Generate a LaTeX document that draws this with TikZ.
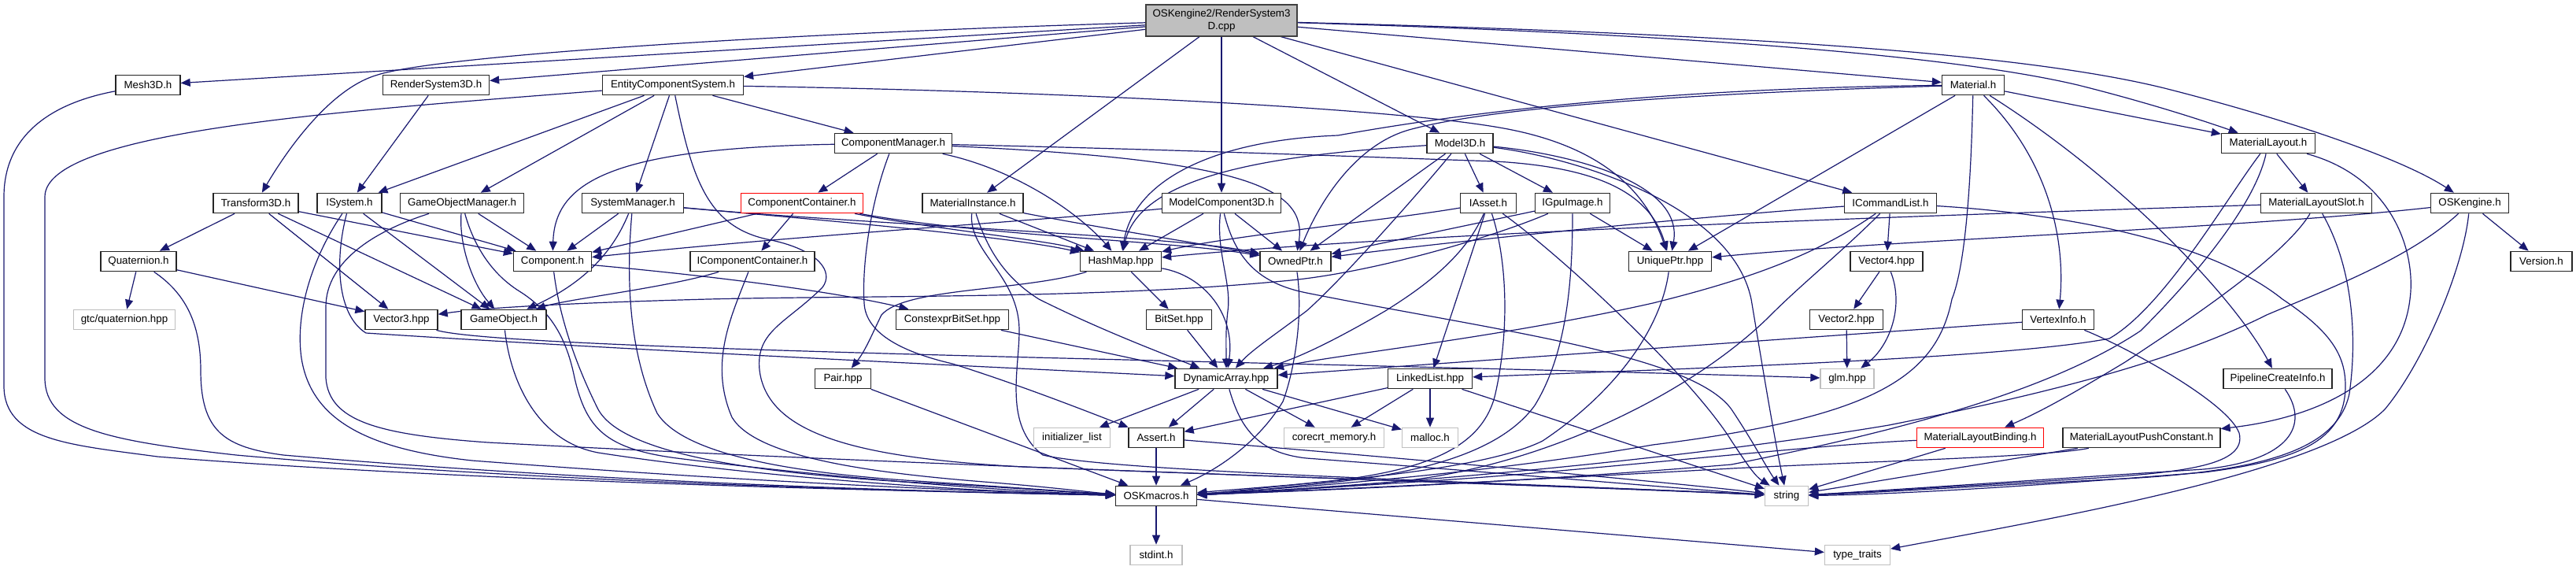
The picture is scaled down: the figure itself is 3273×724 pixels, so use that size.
\documentclass[tikz,border=0pt]{standalone}
\usepackage{fontspec}
\setmainfont{Liberation Sans}
\usetikzlibrary{arrows.meta, backgrounds}
\definecolor{incblue}{HTML}{191970}
\definecolor{rootgray}{HTML}{BFBFBF}
\definecolor{framegray}{HTML}{404040}
\definecolor{sysgray}{HTML}{BFBFBF}

\begin{document}
\begin{tikzpicture}[x=0.75pt, y=-0.75pt,
  hdr/.style={draw=black!85, fill=white, line width=1pt, minimum height=19pt, inner sep=0pt, font=\fontsize{10}{11.5}\selectfont},
  wd/.style={minimum width=#1*0.75pt},
  sys/.style={hdr, draw=sysgray},
  cut/.style={hdr, draw=red},
  inc/.style={incblue, line width=0.9pt, -{Triangle[length=9pt,width=7.5pt]}}]
  \useasboundingbox (0,0) rectangle (3273,724);
  \node[hdr, fill=rootgray, draw=framegray, wd=192, minimum height=30pt, align=center] (root) at (1552,26) {OSKengine2/RenderSystem3\\D.cpp};
  \node[hdr, wd=82] (mesh) at (188,108) {Mesh3D.h};
  \node[hdr, wd=135] (rs3d) at (554,108) {RenderSystem3D.h};
  \node[hdr, wd=179] (ecs) at (855,108) {EntityComponentSystem.h};
  \node[hdr, wd=79] (material) at (2507,108) {Material.h};
  \node[hdr, wd=149] (compmgr) at (1135,182) {ComponentManager.h};
  \node[hdr, wd=84] (model) at (1855,182) {Model3D.h};
  \node[hdr, wd=119] (mlayout) at (2882,182) {MaterialLayout.h};
  \node[hdr, wd=108] (trans) at (325,258) {Transform3D.h};
  \node[hdr, wd=82] (isystem) at (444,258) {ISystem.h};
  \node[hdr, wd=157] (gom) at (587,258) {GameObjectManager.h};
  \node[hdr, wd=129] (sysmgr) at (804,258) {SystemManager.h};
  \node[cut, wd=155] (compcont) at (1019,258) {ComponentContainer.h};
  \node[hdr, wd=128] (matinst) at (1236,258) {MaterialInstance.h};
  \node[hdr, wd=151] (mc3d) at (1552,258) {ModelComponent3D.h};
  \node[hdr, wd=71] (iasset) at (1891,258) {IAsset.h};
  \node[hdr, wd=95] (igpu) at (1998,258) {IGpuImage.h};
  \node[hdr, wd=117] (icmd) at (2402,258) {ICommandList.h};
  \node[hdr, wd=141] (mlslot) at (2943,258) {MaterialLayoutSlot.h};
  \node[hdr, wd=99] (oskengine) at (3138,258) {OSKengine.h};
  \node[hdr, wd=96] (quat) at (176,332) {Quaternion.h};
  \node[hdr, wd=99] (component) at (702,332) {Component.h};
  \node[hdr, wd=158] (icompcont) at (956,332) {IComponentContainer.h};
  \node[hdr, wd=103] (hashmap) at (1424,332) {HashMap.hpp};
  \node[hdr, wd=90] (ownedptr) at (1646,332) {OwnedPtr.h};
  \node[hdr, wd=105] (uniqueptr) at (2122,332) {UniquePtr.hpp};
  \node[hdr, wd=92] (vec4) at (2397,332) {Vector4.hpp};
  \node[hdr, wd=78] (version) at (3229,332) {Version.h};
  \node[sys, wd=129] (gtcquat) at (158,406) {gtc/quaternion.hpp};
  \node[hdr, wd=92] (vec3) at (510,406) {Vector3.hpp};
  \node[hdr, wd=108] (gameobj) at (640,406) {GameObject.h};
  \node[hdr, wd=143] (constbitset) at (1210,406) {ConstexprBitSet.hpp};
  \node[hdr, wd=83] (bitset) at (1498,406) {BitSet.hpp};
  \node[hdr, wd=93] (vec2) at (2346,406) {Vector2.hpp};
  \node[hdr, wd=91] (vertexinfo) at (2615,406) {VertexInfo.h};
  \node[hdr, wd=71] (pair) at (1071,481) {Pair.hpp};
  \node[hdr, wd=130] (dynarray) at (1558,481) {DynamicArray.hpp};
  \node[hdr, wd=107] (linkedlist) at (1817,481) {LinkedList.hpp};
  \node[sys, wd=68] (glm) at (2347,481) {glm.hpp};
  \node[hdr, wd=138] (pipeline) at (2894,481) {PipelineCreateInfo.h};
  \node[sys, wd=97] (initlist) at (1362,556) {initializer\_list};
  \node[hdr, wd=70] (assert) at (1469,556) {Assert.h};
  \node[sys, wd=127] (corecrt) at (1695,556) {corecrt\_memory.h};
  \node[sys, wd=71] (malloc) at (1817,556) {malloc.h};
  \node[cut, wd=161] (mlbinding) at (2516,556) {MaterialLayoutBinding.h};
  \node[hdr, wd=200] (mlpush) at (2721,556) {MaterialLayoutPushConstant.h};
  \node[hdr, wd=103] (macros) at (1469,630) {OSKmacros.h};
  \node[sys, wd=55] (string) at (2270,630) {string};
  \node[sys, wd=66] (stdint) at (1469,705) {stdint.h};
  \node[sys, wd=83] (typetraits) at (2360,705) {type\_traits};
  \begin{scope}[on background layer]
  \fill[white] (0,0) rectangle (3273,724);
  \draw[inc] (root) -- (mesh);
  \draw[inc] (root) -- (rs3d);
  \draw[inc] (root) -- (ecs);
  \draw[inc] (root) .. controls (1000,42) and (560,70) .. (480,95) .. controls (420,112) and (365,190) .. (trans);
  \draw[inc] (root) -- (matinst);
  \draw[inc] (root) -- (mc3d);
  \draw[inc] (root) -- (model);
  \draw[inc] (root) -- (icmd);
  \draw[inc] (root) -- (material);
  \draw[inc] (root) .. controls (2200,45) and (2500,75) .. (2640,108) .. controls (2720,128) and (2790,150) .. (mlayout);
  \draw[inc] (root) .. controls (2300,45) and (2600,75) .. (2750,112) .. controls (2900,150) and (3050,200) .. (oskengine);
  \draw[inc] (mesh) .. controls (60,132) and (5,175) .. (5,250) -- (5,490) .. controls (5,560) and (90,565) .. (200,580) .. controls (600,612) and (1150,624) .. (macros);
  \draw[inc] (rs3d) -- (isystem);
  \draw[inc] (ecs) .. controls (450,140) and (57,165) .. (57,250) -- (57,480) .. controls (57,545) and (140,560) .. (300,578) .. controls (700,614) and (1200,625) .. (macros);
  \draw[inc] (ecs) -- (isystem);
  \draw[inc] (ecs) -- (gom);
  \draw[inc] (ecs) -- (sysmgr);
  \draw[inc] (ecs) -- (compmgr);
  \draw[inc] (ecs) .. controls (1300,115) and (1750,135) .. (1905,162) .. controls (2010,180) and (2085,225) .. (uniqueptr);
  \draw[inc] (ecs) .. controls (880,230) and (900,290) .. (980,305) .. controls (1040,318) and (1060,345) .. (1045,365) .. controls (1000,410) and (960,420) .. (965,470) .. controls (975,555) and (1100,582) .. (1300,593) .. controls (1750,610) and (2100,622) .. (string);
  \draw[inc] (trans) -- (quat);
  \draw[inc] (trans) -- (vec3);
  \draw[inc] (trans) -- (gameobj);
  \draw[inc] (trans) -- (component);
  \draw[inc] (quat) -- (gtcquat);
  \draw[inc] (quat) -- (vec3);
  \draw[inc] (quat) .. controls (235,372) and (255,410) .. (255,470) .. controls (255,548) and (285,568) .. (360,578) .. controls (800,616) and (1250,626) .. (macros);
  \draw[inc] (isystem) -- (component);
  \draw[inc] (isystem) -- (gameobj);
  \draw[inc] (isystem) .. controls (425,330) and (428,400) .. (465,423) .. controls (800,445) and (1300,468) .. (dynarray);
  \draw[inc] (isystem) .. controls (395,330) and (375,400) .. (383,455) .. controls (395,530) and (460,570) .. (600,585) .. controls (1000,616) and (1300,626) .. (macros);
  \draw[inc] (gom) .. controls (583,310) and (600,360) .. (gameobj);
  \draw[inc] (gom) -- (component);
  \draw[inc] (gom) .. controls (600,305) and (620,345) .. (660,370) .. controls (700,395) and (720,430) .. (730,480) .. controls (745,545) and (770,570) .. (860,582) .. controls (1100,612) and (1320,626) .. (macros);
  \draw[inc] (gom) .. controls (480,292) and (414,330) .. (414,390) -- (414,480) .. controls (418,535) and (480,552) .. (620,562) .. controls (1300,598) and (2000,616) .. (string);
  \draw[inc] (sysmgr) -- (component);
  \draw[inc] (sysmgr) .. controls (775,330) and (730,365) .. (gameobj);
  \draw[inc] (sysmgr) .. controls (795,360) and (800,450) .. (835,525) .. controls (865,572) and (980,598) .. (1150,610) .. controls (1300,620) and (1380,626) .. (macros);
  \draw[inc] (sysmgr) .. controls (1050,280) and (1280,300) .. (hashmap);
  \draw[inc] (sysmgr) .. controls (1100,285) and (1500,300) .. (ownedptr);
  \draw[inc] (compmgr) -- (compcont);
  \draw[inc] (compmgr) .. controls (780,188) and (705,230) .. (component);
  \draw[inc] (compmgr) .. controls (1290,215) and (1370,270) .. (hashmap);
  \draw[inc] (compmgr) .. controls (1105,260) and (1095,340) .. (1098,385) .. controls (1100,425) and (1150,448) .. (1210,462) .. controls (1300,490) and (1400,530) .. (assert);
  \draw[inc] (compmgr) .. controls (1500,190) and (1750,200) .. (1900,205) .. controls (2020,212) and (2095,240) .. (uniqueptr);
  \draw[inc] (compmgr) .. controls (1580,203) and (1662,238) .. (ownedptr);
  \draw[inc] (compcont) -- (icompcont);
  \draw[inc] (compcont) -- (component);
  \draw[inc] (compcont) .. controls (1180,290) and (1330,305) .. (hashmap);
  \draw[inc] (compcont) .. controls (1250,300) and (1480,305) .. (ownedptr);
  \draw[inc] (icompcont) .. controls (850,365) and (720,380) .. (gameobj);
  \draw[inc] (icompcont) .. controls (930,400) and (900,460) .. (930,530) .. controls (960,580) and (1100,600) .. (1250,612) .. controls (1350,620) and (1390,626) .. (macros);
  \draw[inc] (component) .. controls (708,380) and (720,440) .. (760,520) .. controls (790,575) and (950,600) .. (1150,612) .. controls (1300,620) and (1380,627) .. (macros);
  \draw[inc] (component) .. controls (900,350) and (1060,370) .. (constbitset);
  \draw[inc] (gameobj) .. controls (648,480) and (680,560) .. (760,575) .. controls (1000,612) and (1300,627) .. (macros);
  \draw[inc] (constbitset) -- (dynarray);
  \draw[inc] (vec3) .. controls (640,445) and (1600,458) .. (glm);
  \draw[inc] (hashmap) .. controls (1300,370) and (1150,365) .. (1120,400) .. controls (1110,420) and (1100,445) .. (pair);
  \draw[inc] (hashmap) -- (bitset);
  \draw[inc] (hashmap) .. controls (1530,350) and (1570,400) .. (dynarray);
  \draw[inc] (bitset) -- (dynarray);
  \draw[inc] (pair) -- (macros);
  \draw[inc] (dynarray) -- (initlist);
  \draw[inc] (dynarray) -- (assert);
  \draw[inc] (dynarray) -- (corecrt);
  \draw[inc] (dynarray) -- (malloc);
  \draw[inc] (dynarray) .. controls (1575,540) and (1595,575) .. (1660,582) .. controls (1900,600) and (2150,622) .. (string);
  \draw[inc] (linkedlist) -- (corecrt);
  \draw[inc] (linkedlist) -- (malloc);
  \draw[inc] (linkedlist) -- (assert);
  \draw[inc] (linkedlist) -- (string);
  \draw[inc] (assert) -- (macros);
  \draw[inc] (assert) .. controls (1700,575) and (2100,610) .. (string);
  \draw[inc] (ownedptr) .. controls (1656,400) and (1645,470) .. (1630,510) .. controls (1600,560) and (1550,595) .. (macros);
  \draw[inc] (uniqueptr) .. controls (2110,420) and (2050,500) .. (1960,560) .. controls (1880,600) and (1650,615) .. (macros);
  \draw[inc] (iasset) .. controls (1760,280) and (1560,300) .. (hashmap);
  \draw[inc] (iasset) .. controls (1860,330) and (1800,370) .. (1760,395) .. controls (1700,430) and (1650,455) .. (dynarray);
  \draw[inc] (iasset) -- (linkedlist);
  \draw[inc] (iasset) .. controls (1915,330) and (1918,420) .. (1900,500) .. controls (1885,565) and (1820,595) .. (1700,610) .. controls (1600,620) and (1550,626) .. (macros);
  \draw[inc] (iasset) .. controls (1990,330) and (2150,480) .. (2200,560) .. controls (2220,590) and (2230,605) .. (string);
  \draw[inc] (igpu) -- (ownedptr);
  \draw[inc] (igpu) .. controls (1900,300) and (1750,345) .. (1640,356) .. controls (1400,380) and (1100,375) .. (900,380) .. controls (750,384) and (620,390) .. (vec3);
  \draw[inc] (igpu) .. controls (1998,360) and (1990,450) .. (1950,515) .. controls (1910,570) and (1820,598) .. (1700,612) .. controls (1600,622) and (1550,628) .. (macros);
  \draw[inc] (igpu) -- (uniqueptr);
  \draw[inc] (model) .. controls (1650,195) and (1450,215) .. (hashmap);
  \draw[inc] (model) -- (ownedptr);
  \draw[inc] (model) -- (iasset);
  \draw[inc] (model) -- (igpu);
  \draw[inc] (model) .. controls (1990,195) and (2140,230) .. (uniqueptr);
  \draw[inc] (model) .. controls (1790,260) and (1700,360) .. (1660,395) .. controls (1620,425) and (1590,445) .. (dynarray);
  \draw[inc] (model) .. controls (2000,200) and (2200,260) .. (2225,380) .. controls (2240,470) and (2255,560) .. (string);
  \draw[inc] (mc3d) .. controls (1300,282) and (1000,300) .. (component);
  \draw[inc] (mc3d) -- (hashmap);
  \draw[inc] (mc3d) -- (ownedptr);
  \draw[inc] (mc3d) .. controls (1545,320) and (1565,360) .. (1560,395) .. controls (1557,420) and (1558,440) .. (dynarray);
  \draw[inc] (mc3d) .. controls (1570,330) and (1600,360) .. (1660,372) .. controls (1900,420) and (2150,450) .. (2200,520) .. controls (2230,565) and (2245,595) .. (string);
  \draw[inc] (matinst) -- (hashmap);
  \draw[inc] (matinst) .. controls (1400,290) and (1530,310) .. (ownedptr);
  \draw[inc] (matinst) .. controls (1255,320) and (1280,355) .. (1320,380) .. controls (1400,420) and (1480,450) .. (dynarray);
  \draw[inc] (matinst) .. controls (1230,320) and (1295,350) .. (1295,420) .. controls (1295,470) and (1275,540) .. (1325,578) .. controls (1420,600) and (1900,612) .. (string);
  \draw[inc] (icmd) .. controls (2200,272) and (1900,300) .. (ownedptr);
  \draw[inc] (icmd) .. controls (2300,330) and (2200,360) .. (2100,385) .. controls (1900,430) and (1700,450) .. (dynarray);
  \draw[inc] (icmd) -- (vec4);
  \draw[inc] (icmd) .. controls (2340,320) and (2290,360) .. (2250,400) .. controls (2150,500) and (1950,600) .. (1750,614) .. controls (1650,622) and (1570,627) .. (macros);
  \draw[inc] (icmd) .. controls (2600,270) and (2800,300) .. (2900,380) .. controls (2960,420) and (2980,450) .. (2980,490) .. controls (2980,560) and (2920,585) .. (2800,600) .. controls (2550,620) and (2400,628) .. (string);
  \draw[inc] (vec4) -- (vec2);
  \draw[inc] (vec4) .. controls (2420,390) and (2400,440) .. (glm);
  \draw[inc] (vec2) -- (glm);
  \draw[inc] (material) .. controls (2100,112) and (1850,145) .. (1700,172) .. controls (1540,178) and (1440,230) .. (hashmap);
  \draw[inc] (material) .. controls (2100,120) and (1880,140) .. (1790,165) .. controls (1720,185) and (1675,260) .. (ownedptr);
  \draw[inc] (material) -- (uniqueptr);
  \draw[inc] (material) .. controls (2505,200) and (2500,330) .. (2480,380) .. controls (2460,480) and (2380,530) .. (2100,565) .. controls (1900,600) and (1650,620) .. (macros);
  \draw[inc] (material) .. controls (2600,200) and (2625,300) .. (vertexinfo);
  \draw[inc] (material) .. controls (2700,230) and (2840,380) .. (pipeline);
  \draw[inc] (material) -- (mlayout);
  \draw[inc] (mlayout) -- (mlslot);
  \draw[inc] (mlayout) .. controls (2830,250) and (2750,390) .. (2680,430) .. controls (2550,455) and (2150,468) .. (linkedlist);
  \draw[inc] (mlayout) .. controls (2865,260) and (2790,350) .. (2720,420) .. controls (2600,500) and (2400,550) .. (2200,590) .. controls (1900,615) and (1650,624) .. (macros);
  \draw[inc] (mlayout) .. controls (3040,225) and (3070,320) .. (3062,380) .. controls (3050,480) and (2950,530) .. (mlpush);
  \draw[inc] (mlslot) .. controls (2500,272) and (1800,295) .. (hashmap);
  \draw[inc] (mlslot) .. controls (2900,330) and (2760,420) .. (2700,460) .. controls (2650,490) and (2600,520) .. (mlbinding);
  \draw[inc] (mlslot) .. controls (2990,340) and (2995,430) .. (2985,500) .. controls (2970,570) and (2880,598) .. (2700,608) .. controls (2500,618) and (2380,626) .. (string);
  \draw[inc] (mlbinding) -- (string);
  \draw[inc] (mlbinding) .. controls (2300,565) and (2000,600) .. (1800,612) .. controls (1650,622) and (1560,627) .. (macros);
  \draw[inc] (mlpush) -- (string);
  \draw[inc] (mlpush) .. controls (2600,580) and (2400,585) .. (2200,595) .. controls (1900,612) and (1650,624) .. (macros);
  \draw[inc] (pipeline) .. controls (2935,540) and (2910,585) .. (2800,596) .. controls (2550,612) and (2380,624) .. (string);
  \draw[inc] (vertexinfo) -- (dynarray);
  \draw[inc] (vertexinfo) .. controls (2700,440) and (2830,510) .. (2845,550) .. controls (2855,590) and (2780,600) .. (2650,608) .. controls (2450,620) and (2350,626) .. (string);
  \draw[inc] (oskengine) .. controls (2850,290) and (2400,305) .. (uniqueptr);
  \draw[inc] (oskengine) -- (version);
  \draw[inc] (oskengine) .. controls (3130,340) and (3080,460) .. (3030,520) .. controls (2950,600) and (2600,660) .. (typetraits);
  \draw[inc] (oskengine) .. controls (3060,330) and (2950,370) .. (2880,400) .. controls (2760,460) and (2600,500) .. (2400,540) .. controls (2100,590) and (1700,620) .. (macros);
  \draw[inc] (macros) -- (stdint);
  \draw[inc] (macros) -- (typetraits);
  \end{scope}
\end{tikzpicture}
\end{document}
